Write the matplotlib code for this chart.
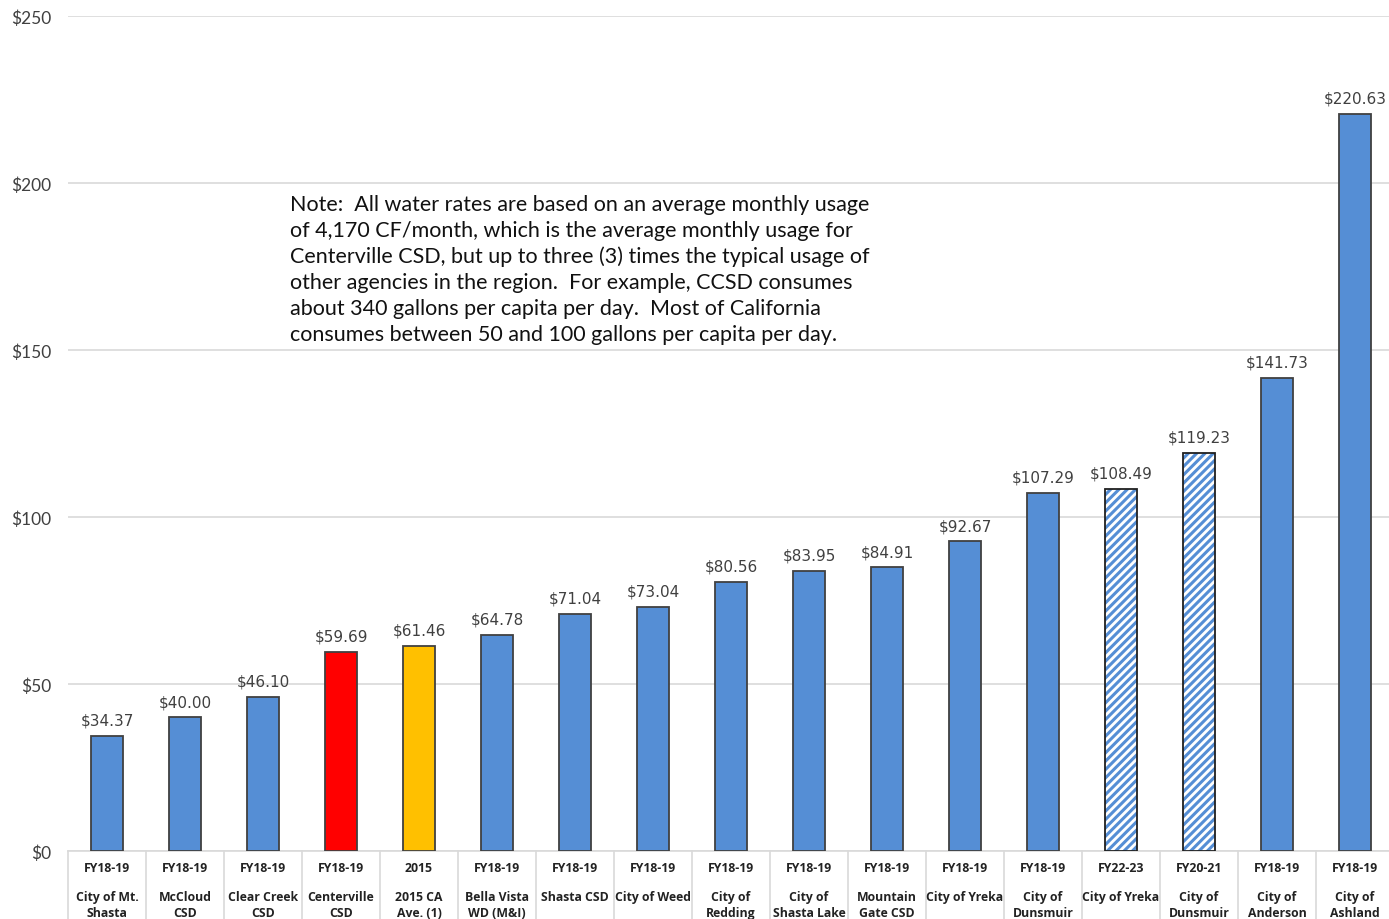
import matplotlib.pyplot as plt
from matplotlib.lines import Line2D

# chart data
years = ["FY18-19", "FY18-19", "FY18-19", "FY18-19", "2015", "FY18-19", "FY18-19",
         "FY18-19", "FY18-19", "FY18-19", "FY18-19", "FY18-19", "FY18-19",
         "FY22-23", "FY20-21", "FY18-19", "FY18-19"]
agencies = ["City of Mt.\nShasta", "McCloud\nCSD", "Clear Creek\nCSD", "Centerville\nCSD",
            "2015 CA\nAve. (1)", "Bella Vista\nWD (M&I)", "Shasta CSD", "City of Weed",
            "City of\nRedding", "City of\nShasta Lake", "Mountain\nGate CSD", "City of Yreka",
            "City of\nDunsmuir", "City of Yreka", "City of\nDunsmuir", "City of\nAnderson",
            "City of\nAshland"]
rates = [34.37, 40.00, 46.10, 59.69, 61.46, 64.78, 71.04, 73.04, 80.56, 83.95,
         84.91, 92.67, 107.29, 108.49, 119.23, 141.73, 220.63]
note = ("Note:  All water rates are based on an average monthly usage\n"
        "of 4,170 CF/month, which is the average monthly usage for\n"
        "Centerville CSD, but up to three (3) times the typical usage of\n"
        "other agencies in the region.  For example, CCSD consumes\n"
        "about 340 gallons per capita per day.  Most of California\n"
        "consumes between 50 and 100 gallons per capita per day.")

blue = "#558ED5"
W, H = 1389, 920
plt.rcParams["hatch.linewidth"] = 2.2
fig = plt.figure(figsize=(W / 100, H / 100), dpi=100)
ax = fig.add_axes([68 / W, (H - 852) / H, 1326 / W, 835 / H])

n = len(rates)
for i, v in enumerate(rates):
    if i == 3:
        ax.bar(i, v, width=0.41, color="#FF0000", edgecolor="#404040", linewidth=1.3, zorder=3)
    elif i == 4:
        ax.bar(i, v, width=0.41, color="#FFC000", edgecolor="#404040", linewidth=1.3, zorder=3)
    elif i in (13, 14):
        ax.bar(i, v, width=0.41, color="white", edgecolor=blue, hatch="////", linewidth=0, zorder=3)
        ax.bar(i, v, width=0.41, fill=False, edgecolor="#202020", linewidth=1.3, zorder=4)
    else:
        ax.bar(i, v, width=0.41, color=blue, edgecolor="#404040", linewidth=1.3, zorder=3)
    ax.annotate("$%.2f" % v, (i, v), xytext=(0, 6), textcoords="offset points",
                ha="center", va="bottom", fontsize=11, color="#404040", family="DejaVu Sans")

ax.set_xlim(-0.5, n - 0.5)
ax.set_ylim(0, 250)
ax.set_yticks(range(0, 251, 50))
ax.set_yticklabels(["$%d" % t for t in range(0, 251, 50)], family="Lato", fontsize=12.5, color="#404040")
ax.tick_params(axis="y", length=0, pad=12)
ax.set_xticks([])
ax.grid(axis="y", color="#D9D9D9", linewidth=1.2, zorder=0)
for s in ["top", "right", "left"]:
    ax.spines[s].set_visible(False)
ax.spines["bottom"].set_color("#D9D9D9")
ax.spines["bottom"].set_linewidth(1.2)

# category table under the axis
for b in range(n + 1):
    ax.add_line(Line2D([b - 0.5, b - 0.5], [0, -25], color="#D9D9D9", linewidth=1.2, clip_on=False))
for i in range(n):
    ax.text(i, -4.9, years[i], ha="center", va="center", fontsize=8.8, fontweight="bold",
            family="Open Sans", color="#222222", clip_on=False)
    ax.text(i, -11.8, agencies[i], ha="center", va="top", fontsize=8.8, fontweight="bold",
            family="Open Sans", color="#222222", clip_on=False, linespacing=1.3)

fig.text(290 / W, 1 - 195 / H, note, ha="left", va="top", fontsize=15.5, family="Lato",
         color="#111111", linespacing=1.36)

fig.savefig("out.png", dpi=100)
